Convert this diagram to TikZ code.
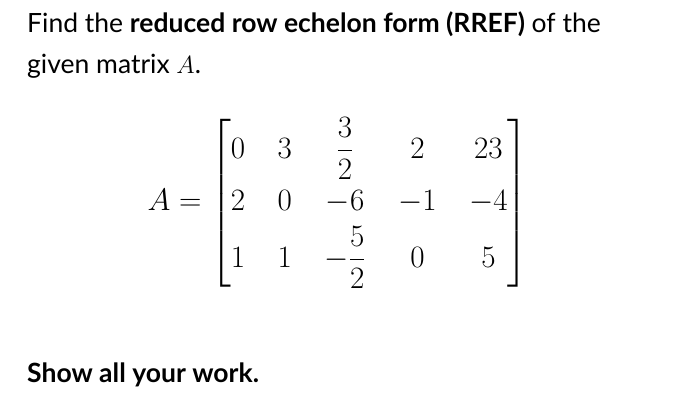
\documentclass[tikz,border=0pt]{standalone}
\usepackage{amsmath}
\usepackage{fontspec}
\setmainfont{Lato}
\begin{document}
\begin{tikzpicture}[x=1pt,y=-1pt,txt/.style={anchor=west,inner sep=0pt,font=\fontsize{26.5}{30}\selectfont}]
\useasboundingbox[fill=white] (0,0) rectangle (700,402);
\node[txt] (l1) at (27,24) {Find the \textbf{reduced row echelon form (RREF)} of the};
\node[txt] (l2) at (27,66) {given matrix $A$.};
\node[anchor=center,inner sep=0pt,scale=1.25,font=\fontsize{29}{35}\selectfont] (m) at (338,203) {\setlength\arraycolsep{13pt}$A=\left[\begin{matrix}0&3&\dfrac{3}{2}&2&23\\[2pt]2&0&-6&-1&-4\\[2pt]1&1&-\dfrac{5}{2}&0&5\end{matrix}\right]$};
\node[txt] (l3) at (27,375) {\textbf{Show all your work.}};
\end{tikzpicture}
\end{document}
